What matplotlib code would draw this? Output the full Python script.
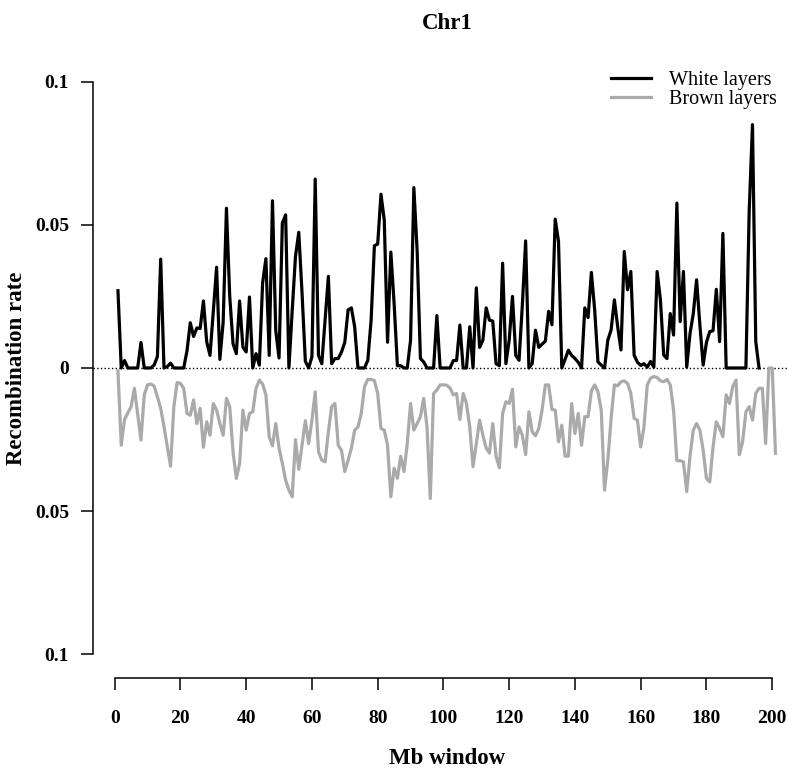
import matplotlib
matplotlib.use('Agg')
import matplotlib.pyplot as plt
import numpy as np

plt.rcParams['font.family'] = ['Liberation Serif', 'DejaVu Serif']

# recombination rate per 1 Mb window, Chr1
white = [0.027, 0.0, 0.0026, 0.0, 0.0, 0.0, 0.0, 0.0089, 0.0, 0.0,
         0.0, 0.001, 0.004, 0.038, 0.0, 0.0005, 0.0017, 0.0, 0.0, 0.0,
         0.0, 0.006, 0.0158, 0.011, 0.014, 0.0138, 0.0234, 0.0091, 0.0044, 0.02,
         0.0352, 0.003, 0.016, 0.0558, 0.025, 0.0085, 0.005, 0.0234, 0.0073, 0.0056,
         0.0248, 0.0, 0.005, 0.001, 0.0297, 0.0382, 0.0044, 0.0584, 0.013, 0.0035,
         0.0506, 0.0535, 0.0, 0.02, 0.039, 0.0474, 0.026, 0.0023, 0.0, 0.0039,
         0.066, 0.0044, 0.0015, 0.017, 0.032, 0.0015, 0.0033, 0.0033, 0.0056, 0.009,
         0.0203, 0.021, 0.0144, 0.0, 0.0, 0.0, 0.0027, 0.0167, 0.0427, 0.0433,
         0.0607, 0.0517, 0.009, 0.0405, 0.0225, 0.0008, 0.0008, 0.0, 0.0, 0.0097,
         0.063, 0.041, 0.0033, 0.0021, 0.0, 0.0, 0.0, 0.0183, 0.0, 0.0,
         0.0, 0.0, 0.0026, 0.0026, 0.015, 0.0, 0.0, 0.0144, 0.0, 0.028,
         0.0072, 0.0097, 0.021, 0.0167, 0.0164, 0.0015, 0.0008, 0.0366, 0.0015, 0.0097,
         0.025, 0.0044, 0.0027, 0.022, 0.0444, 0.0, 0.0015, 0.0132, 0.0072, 0.0083,
         0.0094, 0.0198, 0.0151, 0.052, 0.0442, 0.0, 0.003, 0.0062, 0.0044, 0.0033,
         0.002, 0.0, 0.021, 0.0176, 0.0334, 0.0203, 0.0021, 0.001, 0.0, 0.0097,
         0.0133, 0.0238, 0.0144, 0.0063, 0.0407, 0.0273, 0.0337, 0.0045, 0.002, 0.0009,
         0.0015, 0.0003, 0.0023, 0.0003, 0.0337, 0.0238, 0.0045, 0.0033, 0.019, 0.0115,
         0.0576, 0.0162, 0.0337, 0.0003, 0.012, 0.019, 0.0308, 0.015, 0.001, 0.009,
         0.0127, 0.013, 0.0275, 0.0092, 0.047, 0.0, 0.0, 0.0, 0.0, 0.0,
         0.0, 0.0, 0.055, 0.085, 0.0092, 0.0]

brown = [0.001, 0.027, 0.018, 0.0157, 0.0135, 0.0071, 0.016, 0.0252, 0.0094, 0.0059,
         0.0056, 0.0063, 0.0101, 0.0141, 0.0205, 0.0275, 0.0343, 0.0135, 0.0051, 0.0054,
         0.0071, 0.0159, 0.0165, 0.0112, 0.0194, 0.0141, 0.0277, 0.0188, 0.0235, 0.0124,
         0.0147, 0.0194, 0.0235, 0.0106, 0.0135, 0.0293, 0.0386, 0.0334, 0.0147, 0.0217,
         0.0159, 0.0153, 0.0071, 0.0042, 0.0056, 0.0094, 0.024, 0.0272, 0.0194, 0.028,
         0.0333, 0.0392, 0.0427, 0.045, 0.025, 0.0354, 0.027, 0.0184, 0.0264, 0.0182,
         0.0083, 0.0293, 0.0322, 0.0328, 0.0223, 0.0135, 0.0124, 0.027, 0.0288, 0.0362,
         0.0322, 0.028, 0.0217, 0.0206, 0.0159, 0.0065, 0.004, 0.004, 0.0044, 0.0089,
         0.0211, 0.0217, 0.027, 0.045, 0.035, 0.0385, 0.0308, 0.0362, 0.0264, 0.0124,
         0.0217, 0.0194, 0.017, 0.0106, 0.0206, 0.0456, 0.0089, 0.0077, 0.0059, 0.0059,
         0.006, 0.007, 0.0094, 0.0089, 0.018, 0.0089, 0.0124, 0.0206, 0.0345, 0.0264,
         0.0182, 0.0235, 0.028, 0.0297, 0.0194, 0.0308, 0.0349, 0.0159, 0.0118, 0.0124,
         0.0074, 0.0276, 0.0206, 0.0235, 0.0303, 0.0153, 0.0223, 0.0237, 0.0211, 0.0147,
         0.0059, 0.0059, 0.0145, 0.0147, 0.0258, 0.02, 0.0308, 0.0308, 0.0124, 0.0229,
         0.0159, 0.027, 0.017, 0.017, 0.008, 0.0059, 0.0083, 0.0147, 0.0427, 0.0322,
         0.0176, 0.0059, 0.0062, 0.0048, 0.0045, 0.0054, 0.0089, 0.0176, 0.0182, 0.0276,
         0.0206, 0.0059, 0.0036, 0.003, 0.0033, 0.0045, 0.0048, 0.004, 0.0059, 0.0147,
         0.0324, 0.0324, 0.0328, 0.0432, 0.0308, 0.0217, 0.0194, 0.0217, 0.0287, 0.0386,
         0.0398, 0.0276, 0.0188, 0.0211, 0.024, 0.0094, 0.0124, 0.0065, 0.0042, 0.0303,
         0.0258, 0.0153, 0.0135, 0.0182, 0.0089, 0.0071, 0.0071, 0.0264, 0.0, 0.0,
         0.0298]

x_ticks = [0, 20, 40, 60, 80, 100, 120, 140, 160, 180, 200]
y_ticks = [-0.1, -0.05, 0, 0.05, 0.1]
y_tick_labels = ['0.1', '0.05', '0', '0.05', '0.1']

x_white = np.arange(1, len(white) + 1)
x_brown = np.arange(1, len(brown) + 1)

fig = plt.figure(figsize=(7.87, 7.70), dpi=100)
ax = fig.add_axes([0.11855, 0.1191, 0.88145, 0.806])

ax.axhline(0, color='k', linestyle=':', linewidth=1.0)
ax.plot(x_white, white, color='k', linewidth=2.3, label='White layers')
# brown layers mirrored below zero
ax.plot(x_brown, -np.asarray(brown), color='#aaaaaa', linewidth=2.3, label='Brown layers')

ax.set_xlim(-6.5, 204.5)
ax.set_ylim(-0.1084, 0.1084)

# R style detached axes
for side in ['top', 'right']:
    ax.spines[side].set_visible(False)
ax.spines['left'].set_bounds(-0.1, 0.1)
ax.spines['bottom'].set_bounds(0, 200)
ax.spines['left'].set_linewidth(1.1)
ax.spines['bottom'].set_linewidth(1.1)

ax.set_xticks(x_ticks)
ax.set_yticks(y_ticks)
ax.set_yticklabels(y_tick_labels)
ax.tick_params(axis='y', length=9, width=1.1, pad=8.5, labelsize=14)
ax.tick_params(axis='x', length=8.5, width=1.1, pad=14, labelsize=14)
for lab in ax.get_xticklabels() + ax.get_yticklabels():
    lab.set_fontweight('bold')

fig.text(0.568, 0.969, 'Chr1', ha='center', va='center', fontsize=16.5, fontweight='bold')
fig.text(0.568, 0.0143, 'Mb window', ha='center', va='center', fontsize=16.5, fontweight='bold')
fig.text(0.021, 0.522, 'Recombination rate', ha='center', va='center', rotation=90,
         fontsize=16.5, fontweight='bold')

ax.legend(loc='upper left', bbox_to_anchor=(0.776, 0.908), bbox_transform=fig.transFigure,
          frameon=False, fontsize=14.5, handlelength=2.0, handletextpad=0.9,
          labelspacing=0.0, borderpad=0, borderaxespad=0)

plt.savefig('out.png', dpi=100)
